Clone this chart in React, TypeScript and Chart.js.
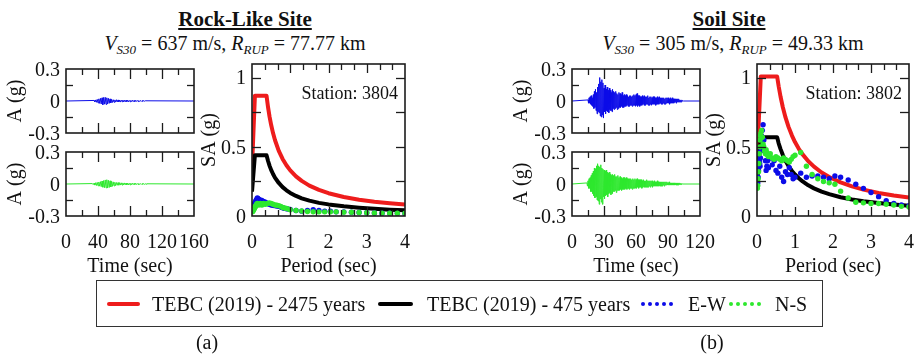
import React, { useEffect, useRef } from 'react';
import { Chart, registerables } from 'chart.js';
Chart.register(...registerables);

const W = 921;
const H = 354;
const FONT = '"Liberation Serif", "Times New Roman", Times, serif';

// ---------------- data ----------------
const rockTimeLabels = [0, 40, 80, 120, 160];
const soilTimeLabels = [0, 30, 60, 90, 120];
const accLabels = [0.3, 0, -0.3];
const periodLabels = [0, 1, 2, 3, 4];
const saLabels = [1, 0.5, 0];

// acceleration histories (g), uniformly sampled
const rockEWStart = 35;
const rockEWStep = 1;
const rockEW = [
  0.005, -0.008, 0.01, -0.012, 0.015, -0.018, 0.02, -0.022, 0.025, -0.028,
  0.03, -0.035, 0.033, -0.03, 0.035, -0.032, 0.03, -0.028, 0.025, -0.022,
  0.02, -0.018, 0.015, -0.014, 0.012, -0.012, 0.01, -0.01, 0.012, -0.009,
  0.01, -0.008, 0.009, -0.01, 0.008, -0.007, 0.009, -0.008, 0.007, -0.008,
  0.008, -0.006, 0.007, -0.008, 0.006, -0.007, 0.006, -0.005, 0.007, -0.006,
  0.005, -0.006, 0.005, -0.004, 0.006, -0.005, 0.004, -0.004, 0.005, -0.004,
  0.004, -0.003, 0.003, -0.002, 0.002,
];
const rockNSStart = 33;
const rockNSStep = 1;
const rockNS = [
  0.004, -0.006, 0.008, -0.01, 0.012, -0.014, 0.015, -0.017, 0.018, -0.02,
  0.022, -0.025, 0.028, -0.03, 0.032, -0.035, 0.038, -0.036, 0.04, -0.038,
  0.035, -0.033, 0.03, -0.028, 0.025, -0.022, 0.02, -0.018, 0.016, -0.015,
  0.014, -0.012, 0.013, -0.011, 0.012, -0.01, 0.011, -0.01, 0.01, -0.009,
  0.01, -0.008, 0.009, -0.008, 0.008, -0.009, 0.007, -0.008, 0.007, -0.006,
  0.007, -0.006, 0.006, -0.005, 0.006, -0.005, 0.005, -0.005, 0.005, -0.004,
  0.004, -0.004, 0.004, -0.003, 0.003, -0.003, 0.003, -0.002, 0.002,
];
const soilEWStart = 15;
const soilEWStep = 0.5;
const soilEW = [
  0.01, -0.02, 0.03, -0.02, 0.04, -0.03, 0.05, -0.04, 0.03, -0.05,
  0.06, -0.07, 0.09, -0.06, 0.11, -0.09, 0.08, -0.12, 0.13, -0.1,
  0.16, -0.11, 0.22, -0.14, 0.18, -0.15, 0.2, -0.13, 0.17, -0.16,
  0.12, -0.1, 0.15, -0.12, 0.11, -0.09, 0.13, -0.1, 0.1, -0.11,
  0.12, -0.08, 0.1, -0.09, 0.08, -0.1, 0.11, -0.07, 0.09, -0.08,
  0.08, -0.07, 0.09, -0.06, 0.07, -0.08, 0.06, -0.07, 0.08, -0.06,
  0.07, -0.06, 0.06, -0.05, 0.08, -0.06, 0.05, -0.06, 0.06, -0.05,
  0.05, -0.05, 0.06, -0.04, 0.05, -0.05, 0.04, -0.05, 0.05, -0.04,
  0.05, -0.04, 0.04, -0.05, 0.05, -0.04, 0.06, -0.04, 0.05, -0.05,
  0.06, -0.04, 0.07, -0.05, 0.05, -0.04, 0.05, -0.05, 0.04, -0.04,
  0.04, -0.04, 0.05, -0.03, 0.04, -0.04, 0.05, -0.04, 0.04, -0.03,
  0.04, -0.03, 0.05, -0.04, 0.03, -0.04, 0.04, -0.03, 0.04, -0.04,
  0.03, -0.03, 0.04, -0.03, 0.04, -0.03, 0.03, -0.04, 0.03, -0.03,
  0.04, -0.03, 0.03, -0.03, 0.04, -0.02, 0.03, -0.03, 0.03, -0.03,
  0.03, -0.02, 0.03, -0.03, 0.02, -0.03, 0.03, -0.02, 0.03, -0.02,
  0.03, -0.02, 0.02, -0.03, 0.03, -0.02, 0.02, -0.02, 0.03, -0.02,
  0.02, -0.02, 0.02, -0.01, 0.02, -0.02, 0.02, -0.01, 0.02, -0.01,
  0.02, -0.01, 0.01, -0.01, 0.01, -0.01, 0.01, 0, 0, 0,
];
const soilNSStart = 14;
const soilNSStep = 0.5;
const soilNS = [
  0.01, -0.02, 0.03, -0.04, 0.05, -0.04, 0.06, -0.07, 0.08, -0.07,
  0.1, -0.09, 0.12, -0.11, 0.15, -0.13, 0.14, -0.12, 0.17, -0.15,
  0.19, -0.16, 0.17, -0.19, 0.16, -0.14, 0.18, -0.17, 0.15, -0.19,
  0.14, -0.12, 0.13, -0.14, 0.12, -0.11, 0.13, -0.1, 0.11, -0.12,
  0.1, -0.09, 0.11, -0.08, 0.09, -0.1, 0.08, -0.09, 0.09, -0.07,
  0.08, -0.07, 0.09, -0.06, 0.07, -0.08, 0.07, -0.06, 0.08, -0.06,
  0.06, -0.06, 0.07, -0.05, 0.06, -0.06, 0.05, -0.05, 0.06, -0.05,
  0.06, -0.05, 0.05, -0.04, 0.06, -0.05, 0.05, -0.04, 0.05, -0.05,
  0.05, -0.04, 0.05, -0.04, 0.04, -0.05, 0.05, -0.04, 0.04, -0.04,
  0.05, -0.04, 0.04, -0.04, 0.05, -0.03, 0.04, -0.04, 0.04, -0.03,
  0.04, -0.03, 0.04, -0.04, 0.03, -0.03, 0.04, -0.03, 0.03, -0.03,
  0.03, -0.03, 0.04, -0.03, 0.03, -0.03, 0.03, -0.02, 0.03, -0.03,
  0.03, -0.02, 0.03, -0.03, 0.02, -0.02, 0.03, -0.02, 0.02, -0.02,
  0.02, -0.02, 0.03, -0.02, 0.02, -0.02, 0.02, -0.02, 0.02, -0.02,
  0.02, -0.02, 0.02, -0.01, 0.02, -0.02, 0.02, -0.01, 0.02, -0.01,
  0.02, -0.01, 0.01, -0.01, 0.02, -0.01, 0.01, -0.01, 0.01, -0.01,
  0.01, -0.01, 0.01, -0.01, 0.01, -0.01, 0.01, -0.01, 0.01, -0.01,
  0.01, -0.01, 0.01, -0.005, 0.01, -0.005, 0.005, -0.005, 0.005, 0,
];

// response spectra (period in sec, SA in g)
const obsPeriods = [
  0.01, 0.02, 0.03, 0.04, 0.05, 0.06, 0.07, 0.08, 0.09, 0.1,
  0.12, 0.14, 0.16, 0.18, 0.2, 0.22, 0.24, 0.26, 0.28, 0.3,
  0.35, 0.4, 0.45, 0.5, 0.55, 0.6, 0.65, 0.7, 0.75, 0.8, 0.85, 0.9, 0.95, 1.0,
  1.15, 1.3, 1.45, 1.6, 1.75, 1.9, 2.05, 2.2, 2.4, 2.6, 2.8, 3.0, 3.2, 3.4, 3.6, 3.8, 4.0,
];
const rockSAEW = [
  0.04, 0.045, 0.05, 0.06, 0.07, 0.08, 0.09, 0.095, 0.1, 0.11,
  0.12, 0.13, 0.125, 0.12, 0.115, 0.11, 0.115, 0.11, 0.1, 0.105,
  0.1, 0.09, 0.085, 0.08, 0.078, 0.075, 0.072, 0.07, 0.065, 0.06, 0.055, 0.052, 0.05, 0.048,
  0.04, 0.035, 0.04, 0.045, 0.04, 0.035, 0.035, 0.03, 0.03, 0.028, 0.025, 0.023, 0.022, 0.02, 0.02, 0.018, 0.017,
];
const rockSANS = [
  0.03, 0.035, 0.04, 0.045, 0.05, 0.055, 0.06, 0.065, 0.07, 0.075,
  0.085, 0.09, 0.085, 0.08, 0.085, 0.09, 0.085, 0.08, 0.085, 0.09,
  0.085, 0.09, 0.095, 0.09, 0.085, 0.08, 0.078, 0.075, 0.07, 0.062, 0.058, 0.055, 0.05, 0.045,
  0.04, 0.036, 0.033, 0.031, 0.03, 0.03, 0.03, 0.03, 0.028, 0.027, 0.025, 0.024, 0.022, 0.021, 0.02, 0.02, 0.02,
];
const soilSAEW = [
  0.22, 0.24, 0.28, 0.33, 0.36, 0.4, 0.38, 0.36, 0.42, 0.47,
  0.58, 0.62, 0.66, 0.55, 0.48, 0.4, 0.33, 0.36, 0.4, 0.35,
  0.42, 0.37, 0.4, 0.33, 0.31, 0.36, 0.28, 0.25, 0.32, 0.3, 0.35, 0.3, 0.27, 0.28,
  0.31, 0.28, 0.29, 0.29, 0.28, 0.27, 0.29, 0.28, 0.26, 0.23, 0.2, 0.17, 0.14, 0.11, 0.09, 0.08, 0.075,
];
const soilSANS = [
  0.2, 0.22, 0.27, 0.32, 0.38, 0.45, 0.5, 0.55, 0.58, 0.6,
  0.62, 0.57, 0.52, 0.5, 0.47, 0.45, 0.48, 0.46, 0.44, 0.43,
  0.45, 0.42, 0.41, 0.43, 0.42, 0.41, 0.4, 0.42, 0.41, 0.4, 0.39, 0.41, 0.43, 0.44,
  0.46, 0.36, 0.3, 0.27, 0.25, 0.24, 0.23, 0.18, 0.13, 0.1, 0.095, 0.09, 0.09, 0.085, 0.08, 0.07, 0.065,
];

// TEBC (2019) design spectra
const rockDesignT = [0, 0.076, 0.38, 0.42, 0.46, 0.5, 0.55, 0.6, 0.7, 0.8, 0.9, 1.0, 1.15, 1.3, 1.5, 1.75, 2.0, 2.4, 2.8, 3.2, 3.6, 4.0];
const rock2475 = [0.35, 0.87, 0.87, 0.786, 0.717, 0.66, 0.6, 0.55, 0.471, 0.413, 0.367, 0.33, 0.287, 0.254, 0.22, 0.189, 0.165, 0.1375, 0.118, 0.103, 0.092, 0.083];
const rock475 = [0.176, 0.44, 0.44, 0.398, 0.363, 0.334, 0.304, 0.278, 0.239, 0.209, 0.186, 0.167, 0.145, 0.128, 0.111, 0.095, 0.084, 0.07, 0.06, 0.052, 0.046, 0.042];
const soilDesignT = [0, 0.1, 0.53, 0.57, 0.62, 0.68, 0.75, 0.83, 0.92, 1.0, 1.1, 1.2, 1.35, 1.5, 1.7, 1.9, 2.2, 2.5, 2.8, 3.2, 3.6, 4.0];
const soil2475 = [0.4, 1.01, 1.01, 0.939, 0.863, 0.787, 0.713, 0.645, 0.582, 0.535, 0.486, 0.446, 0.396, 0.357, 0.315, 0.282, 0.243, 0.214, 0.191, 0.167, 0.149, 0.134];
const soil475 = [0.23, 0.57, 0.57, 0.526, 0.484, 0.441, 0.4, 0.361, 0.326, 0.3, 0.273, 0.25, 0.222, 0.2, 0.176, 0.158, 0.136, 0.12, 0.107, 0.094, 0.083, 0.075];

// ---------------- colours ----------------
const RED = '#ee1c1c';
const BLACK = '#000000';
const BLUE = '#0c0ce8';
const GREEN = '#2ee82e';

// ---------------- helpers ----------------
const history = (start: number, step: number, vals: number[], end: number) => [
  { x: 0, y: 0 },
  ...vals.map((v, i) => ({ x: start + i * step, y: v })),
  { x: end, y: 0 },
];
const pairs = (xs: number[], ys: number[]) => xs.map((x, i) => ({ x, y: ys[i] }));

type Box = { l: number; t: number; r: number; b: number };

const boxPlugin = {
  id: 'box',
  afterDatasetsDraw(chart: any, _args: any, o: any) {
    const { ctx, chartArea: a, scales } = chart;
    const xs = scales.x;
    const ys = scales.y;
    ctx.save();
    ctx.strokeStyle = '#1c1c1c';
    ctx.lineWidth = 1.3;
    const seg = (x1: number, y1: number, x2: number, y2: number) => {
      ctx.beginPath();
      ctx.moveTo(x1, y1);
      ctx.lineTo(x2, y2);
      ctx.stroke();
    };
    (o.xt as [number, number][]).forEach(([v, len]) => {
      const p = Math.round(xs.getPixelForValue(v)) + 0.5;
      seg(p, a.top, p, a.top + len);
      seg(p, a.bottom, p, a.bottom - len);
    });
    (o.yt as [number, number][]).forEach(([v, len]) => {
      const p = Math.round(ys.getPixelForValue(v)) + 0.5;
      seg(a.left, p, a.left + len, p);
      seg(a.right, p, a.right - len, p);
    });
    ctx.lineWidth = 1.6;
    ctx.strokeRect(a.left, a.top, a.right - a.left, a.bottom - a.top);

    ctx.fillStyle = '#111';
    ctx.font = `20px ${FONT}`;
    ctx.textBaseline = 'alphabetic';
    ctx.textAlign = 'center';
    (o.xLabels as number[]).forEach((v) => {
      ctx.fillText(String(v), xs.getPixelForValue(v), a.bottom + 32);
    });
    ctx.textAlign = 'right';
    (o.yLabels as number[]).forEach((v) => {
      ctx.fillText(String(v), a.left - 6, ys.getPixelForValue(v) + 6.6);
    });
    if (o.xTitle) {
      ctx.textAlign = 'center';
      ctx.fillText(o.xTitle, (a.left + a.right) / 2, a.bottom + 56);
    }
    if (o.yTitle) {
      ctx.save();
      ctx.translate(a.left - o.yTitleGap + 6.6, (a.top + a.bottom) / 2);
      ctx.rotate(-Math.PI / 2);
      ctx.textAlign = 'center';
      ctx.fillText(o.yTitle, 0, 0);
      ctx.restore();
    }
    if (o.note) {
      ctx.font = `18px ${FONT}`;
      ctx.textAlign = 'right';
      ctx.fillText(o.note, a.right - 7, a.top + 35);
    }
    ctx.restore();
  },
};

function makeConfig(box: Box, xMin: number, xMax: number, yMin: number, yMax: number, datasets: any[], spec: any) {
  return {
    type: 'line',
    data: { datasets },
    options: {
      animation: false,
      responsive: false,
      events: [],
      layout: { padding: { left: box.l, top: box.t, right: W - box.r, bottom: H - box.b } },
      scales: {
        x: { type: 'linear', min: xMin, max: xMax, display: false },
        y: { type: 'linear', min: yMin, max: yMax, display: false },
      },
      plugins: { legend: { display: false }, tooltip: { enabled: false }, box: spec },
    },
    plugins: [boxPlugin],
  };
}

function Plot({ make }: { make: () => any }) {
  const ref = useRef<HTMLCanvasElement>(null);
  useEffect(() => {
    const c = new Chart(ref.current as HTMLCanvasElement, make());
    return () => c.destroy();
  }, []);
  return (
    <canvas
      ref={ref}
      width={W}
      height={H}
      style={{ position: 'absolute', left: 0, top: 0, width: W, height: H }}
    />
  );
}

const histLine = (data: any[], color: string) => ({
  data,
  borderColor: color,
  borderWidth: 1,
  pointRadius: 0,
  tension: 0,
  fill: false,
});
const designLine = (data: any[], color: string) => ({
  data,
  borderColor: color,
  borderWidth: 4,
  pointRadius: 0,
  tension: 0,
  fill: false,
  borderJoinStyle: 'round',
});
const dots = (data: any[], color: string) => ({
  data,
  showLine: false,
  pointRadius: 2.7,
  pointBorderWidth: 0,
  pointBackgroundColor: color,
  borderColor: color,
});

const accTicks: [number, number][] = [[0.15, 7], [-0.15, 7]];
const rockTimeTicks: [number, number][] = [[20, 6], [40, 10], [60, 6], [80, 10], [100, 6], [120, 10], [140, 6]];
const soilTimeTicks: [number, number][] = [[15, 6], [30, 10], [45, 6], [60, 10], [75, 6], [90, 10], [105, 6]];
const periodTicks: [number, number][] = [
  [1 / 3, 6], [2 / 3, 6], [1, 9], [4 / 3, 6], [5 / 3, 6], [2, 9], [7 / 3, 6], [8 / 3, 6], [3, 9], [10 / 3, 6], [11 / 3, 6],
];
const saTicks: [number, number][] = [[0.25, 9], [0.5, 9], [0.75, 9], [1, 9]];

function histSpec(xLabels: number[], xt: [number, number][], xTitle?: string) {
  return { xt, yt: accTicks, xLabels, yLabels: accLabels, xTitle, yTitle: 'A (g)', yTitleGap: 52 };
}
function specSpec(note: string) {
  return {
    xt: periodTicks,
    yt: saTicks,
    xLabels: periodLabels,
    yLabels: saLabels,
    xTitle: 'Period (sec)',
    yTitle: 'SA (g)',
    yTitleGap: 43.5,
    note,
  };
}

const plots: (() => any)[] = [
  () => makeConfig({ l: 66, t: 69, r: 194, b: 133 }, 0, 160, -0.3, 0.3,
    [histLine(history(rockEWStart, rockEWStep, rockEW, 160), BLUE)],
    { ...histSpec([], rockTimeTicks) }),
  () => makeConfig({ l: 66, t: 152, r: 194, b: 216 }, 0, 160, -0.3, 0.3,
    [histLine(history(rockNSStart, rockNSStep, rockNS, 160), GREEN)],
    histSpec(rockTimeLabels, rockTimeTicks, 'Time (sec)')),
  () => makeConfig({ l: 252, t: 64, r: 405, b: 216 }, 0, 4, 0, 1.1,
    [
      dots(pairs(obsPeriods, rockSANS), GREEN),
      dots(pairs(obsPeriods, rockSAEW), BLUE),
      designLine(pairs(rockDesignT, rock475), BLACK),
      designLine(pairs(rockDesignT, rock2475), RED),
    ],
    specSpec('Station: 3804')),
  () => makeConfig({ l: 572, t: 69, r: 700, b: 133 }, 0, 120, -0.3, 0.3,
    [histLine(history(soilEWStart, soilEWStep, soilEW, 120), BLUE)],
    histSpec([], soilTimeTicks)),
  () => makeConfig({ l: 572, t: 152, r: 700, b: 216 }, 0, 120, -0.3, 0.3,
    [histLine(history(soilNSStart, soilNSStep, soilNS, 120), GREEN)],
    histSpec(soilTimeLabels, soilTimeTicks, 'Time (sec)')),
  () => makeConfig({ l: 757, t: 64, r: 909, b: 216 }, 0, 4, 0, 1.1,
    [
      dots(pairs(obsPeriods, soilSANS), GREEN),
      dots(pairs(obsPeriods, soilSAEW), BLUE),
      designLine(pairs(soilDesignT, soil475), BLACK),
      designLine(pairs(soilDesignT, soil2475), RED),
    ],
    specSpec('Station: 3802')),
];

const txt = (extra: React.CSSProperties): React.CSSProperties => ({
  position: 'absolute',
  fontFamily: FONT,
  fontSize: 20,
  lineHeight: '20px',
  whiteSpace: 'nowrap',
  color: '#111',
  ...extra,
});

const subStyle: React.CSSProperties = { fontSize: 13, verticalAlign: '-4px', fontStyle: 'italic', lineHeight: 0 };

function Subtitle({ cx, vs, r }: { cx: number; vs: string; r: string }) {
  return (
    <div style={txt({ left: cx, top: 33, transform: 'translateX(-50%)' })}>
      <i>V</i>
      <span style={subStyle}>S30</span> = {vs} m/s, <i>R</i>
      <span style={subStyle}>RUP</span> = {r} km
    </div>
  );
}

function LegendDots({ left, color }: { left: number; color: string }) {
  return (
    <>
      {[0, 1, 2, 3, 4].map((i) => (
        <div
          key={i}
          style={{
            position: 'absolute',
            left: left + i * 7 - 2.2,
            top: 304 - 2.2,
            width: 4.4,
            height: 4.4,
            borderRadius: '50%',
            background: color,
          }}
        />
      ))}
    </>
  );
}

export default function App() {
  return (
    <div style={{ position: 'fixed', left: 0, top: 0, width: W, height: H, background: '#fff', overflow: 'hidden' }}>
      <div style={txt({ left: 245, top: 9, transform: 'translateX(-50%)', fontWeight: 'bold', textDecoration: 'underline', fontSize: 21 })}>
        Rock-Like Site
      </div>
      <div style={txt({ left: 729, top: 9, transform: 'translateX(-50%)', fontWeight: 'bold', textDecoration: 'underline', fontSize: 21 })}>
        Soil Site
      </div>
      <Subtitle cx={235} vs="637" r="77.77" />
      <Subtitle cx={733} vs="305" r="49.33" />

      {plots.map((m, i) => (
        <Plot key={i} make={m} />
      ))}

      <div style={{ position: 'absolute', left: 96, top: 280, width: 727, height: 47, border: '1.5px solid #333', boxSizing: 'border-box' }} />
      <div style={{ position: 'absolute', left: 107, top: 302, width: 33, height: 4, background: RED, borderRadius: 2 }} />
      <div style={txt({ left: 152, top: 294 })}>TEBC (2019) - 2475 years</div>
      <div style={{ position: 'absolute', left: 378, top: 302, width: 35, height: 4, background: BLACK, borderRadius: 2 }} />
      <div style={txt({ left: 427, top: 294 })}>TEBC (2019) - 475 years</div>
      <LegendDots left={643} color={BLUE} />
      <div style={txt({ left: 688, top: 294 })}>E-W</div>
      <LegendDots left={731} color={GREEN} />
      <div style={txt({ left: 775, top: 294 })}>N-S</div>

      <div style={txt({ left: 207, top: 332, transform: 'translateX(-50%)' })}>(a)</div>
      <div style={txt({ left: 712, top: 332, transform: 'translateX(-50%)' })}>(b)</div>
    </div>
  );
}
